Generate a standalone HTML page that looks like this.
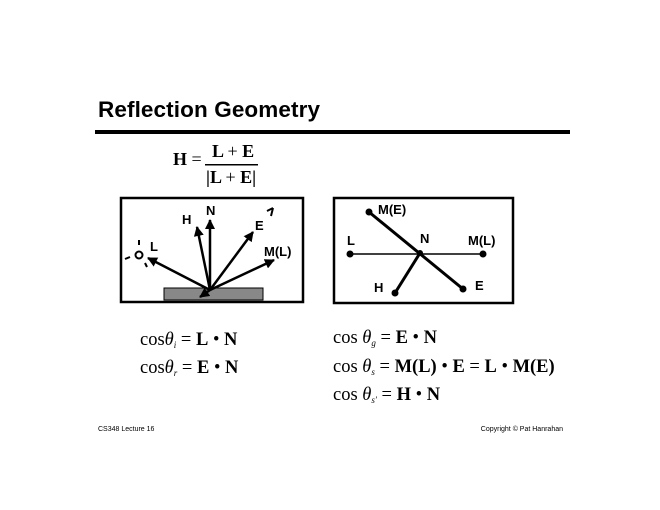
<!DOCTYPE html>
<html><head><style>body{margin:0;background:#fff}svg{display:block}</style></head><body>
<svg width="660" height="510" viewBox="0 0 660 510" xmlns="http://www.w3.org/2000/svg">
<defs><marker id="a" viewBox="0 0 10 10" refX="9" refY="5" markerWidth="4" markerHeight="4" orient="auto"><path d="M0,0L10,5L0,10z" fill="#000"/></marker></defs>
<text x="98" y="117" font-family="Liberation Sans,sans-serif" font-weight="bold" font-size="22.5" textLength="222">Reflection Geometry</text>
<rect x="95" y="130" width="475" height="4" fill="#000"/>
<g font-family="Liberation Serif,serif" font-size="18">
<text x="173" y="165"><tspan font-weight="bold">H</tspan> =</text>
<text x="212" y="157" font-weight="bold">L <tspan font-weight="normal">+</tspan> E</text>
<rect x="205" y="164" width="53" height="1.5"/>
<text x="206" y="183" font-weight="bold">|L <tspan font-weight="normal">+</tspan> E|</text>
</g>
<rect x="121" y="198" width="182" height="104" fill="none" stroke="#000" stroke-width="2.5"/>
<rect x="164" y="288" width="99" height="12" fill="#888" stroke="#000" stroke-width="1"/>
<g stroke="#000" stroke-width="2.5" marker-end="url(#a)">
<line x1="210" y1="290" x2="148" y2="258"/>
<line x1="210" y1="290" x2="197" y2="227"/>
<line x1="210" y1="290" x2="210" y2="220"/>
<line x1="210" y1="290" x2="253" y2="232"/>
<line x1="210" y1="290" x2="274" y2="260"/>
<line x1="210" y1="290" x2="200" y2="297"/>
</g>
<circle cx="139" cy="255" r="3.5" fill="none" stroke="#000" stroke-width="2"/>
<g stroke="#000" stroke-width="2"><line x1="139" y1="240" x2="139" y2="245"/><line x1="125" y1="259" x2="130" y2="257"/><line x1="145" y1="263" x2="147" y2="267"/><line x1="267" y1="211" x2="273" y2="208"/><line x1="273" y1="208" x2="271" y2="216"/></g>
<g font-family="Liberation Sans,sans-serif" font-size="13" font-weight="bold">
<text x="182" y="224">H</text><text x="206" y="215">N</text><text x="255" y="230">E</text><text x="264" y="256">M(L)</text><text x="150" y="251">L</text>
</g>
<rect x="334" y="198" width="179" height="105" fill="none" stroke="#000" stroke-width="2.5"/>
<g stroke="#000"><line x1="350" y1="254" x2="483" y2="254" stroke-width="1.5"/><line x1="369" y1="212" x2="463" y2="289" stroke-width="3"/><line x1="420" y1="253" x2="395" y2="293" stroke-width="3"/></g>
<g fill="#000"><circle cx="350" cy="254" r="3.5"/><circle cx="483" cy="254" r="3.5"/><circle cx="369" cy="212" r="3.5"/><circle cx="463" cy="289" r="3.5"/><circle cx="395" cy="293" r="3.5"/><circle cx="420" cy="253" r="3"/></g>
<g font-family="Liberation Sans,sans-serif" font-size="13" font-weight="bold">
<text x="378" y="214">M(E)</text><text x="420" y="243">N</text><text x="468" y="245">M(L)</text><text x="347" y="245">L</text><text x="374" y="292">H</text><text x="475" y="290">E</text>
</g>
<g font-family="Liberation Serif,serif" font-size="18.5">
<text x="140" y="345">cos<tspan font-style="italic">θ</tspan><tspan font-size="9" font-style="italic" dy="3">i</tspan><tspan dy="-3"> = </tspan><tspan font-weight="bold">L</tspan> • <tspan font-weight="bold">N</tspan></text>
<text x="140" y="373">cos<tspan font-style="italic">θ</tspan><tspan font-size="9" font-style="italic" dy="3">r</tspan><tspan dy="-3"> = </tspan><tspan font-weight="bold">E</tspan> • <tspan font-weight="bold">N</tspan></text>
<text x="333" y="343">cos <tspan font-style="italic">θ</tspan><tspan font-size="9" font-style="italic" dy="3">g</tspan><tspan dy="-3"> = </tspan><tspan font-weight="bold">E</tspan> • <tspan font-weight="bold">N</tspan></text>
<text x="333" y="372">cos <tspan font-style="italic">θ</tspan><tspan font-size="9" font-style="italic" dy="3">s</tspan><tspan dy="-3"> = </tspan><tspan font-weight="bold">M(L)</tspan> • <tspan font-weight="bold">E</tspan> = <tspan font-weight="bold">L</tspan> • <tspan font-weight="bold">M(E)</tspan></text>
<text x="333" y="400">cos <tspan font-style="italic">θ</tspan><tspan font-size="9" font-style="italic" dy="3">s′</tspan><tspan dy="-3"> = </tspan><tspan font-weight="bold">H</tspan> • <tspan font-weight="bold">N</tspan></text>
</g>
<g font-family="Liberation Sans,sans-serif" font-size="7">
<text x="98" y="431">CS348 Lecture 16</text>
<text x="563" y="431" text-anchor="end">Copyright © Pat Hanrahan</text>
</g>
</svg>
</body></html>
